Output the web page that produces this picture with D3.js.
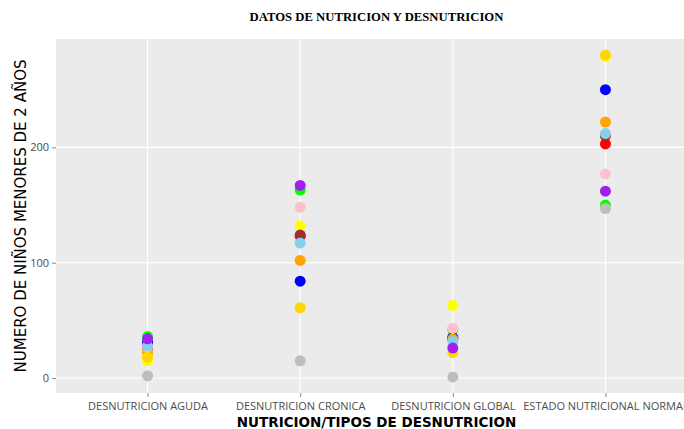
<!DOCTYPE html>
<html>
<head>
<meta charset="utf-8">
<script src="https://cdn.jsdelivr.net/npm/d3@7"></script>
<style>
  body { margin: 0; background: #fff; }
  svg { display: block; }
</style>
</head>
<body>
<div class="chart"></div>
<script>
// datos
const categorias = ["DESNUTRICION AGUDA", "DESNUTRICION CRONICA", "DESNUTRICION GLOBAL", "ESTADO NUTRICIONAL NORMAL"];
const colores = ["yellow", "green", "red", "brown", "blue", "orange", "pink", "skyblue", "grey", "gold", "purple"];
const valYellow  = [15, 132, 63, 279];
const valGreen   = [36, 163, 42, 150];
const valRed     = [26, 123, 34, 203];
const valBrown   = [30, 124, 35, 210];
const valBlue    = [31, 84, 35, 250];
const valOrange  = [22, 102, 34, 222];
const valPink    = [27, 148, 43, 177];
const valSkyblue = [28, 117, 32, 212];
const valGrey    = [2, 15, 1, 147];
const valGold    = [18, 61, 22, 280];
const valPurple  = [34, 167, 26, 162];
const yTicks = [0, 100, 200];

const valores = [valYellow, valGreen, valRed, valBrown, valBlue, valOrange, valPink, valSkyblue, valGrey, valGold, valPurple];
const relleno = {
  yellow: "#FFFF00", green: "#00FF00", brown: "#A52A2A", red: "#FF0000", blue: "#0000FF",
  orange: "#FFA500", pink: "#FFC0CB", skyblue: "#87CEEB", grey: "#BEBEBE", gold: "#FFD700", purple: "#A020F0"
};

const W = 684, H = 429;
const mLeft = 56, mTop = 39, panelW = 641, panelH = 354;

const svg = d3.select('.chart').append('svg')
    .attr('width', W)
    .attr('height', H);

// escala discreta estilo ggplot (expansion 0.6)
const x = d3.scaleLinear()
    .domain([0.4, categorias.length + 0.6])
    .range([mLeft, mLeft + panelW]);

const todos = valores.flat();
const ext = d3.extent(todos);
const pad = (ext[1] - ext[0]) * 0.05;
const y = d3.scaleLinear()
    .domain([ext[0] - pad, ext[1] + pad])
    .range([mTop + panelH, mTop]);

svg.append('rect')
    .attr('x', mLeft).attr('y', mTop)
    .attr('width', panelW).attr('height', panelH)
    .attr('fill', '#ebebeb');

// rejilla
svg.selectAll('hgrid').data(yTicks).enter().append('line')
    .attr('x1', mLeft).attr('x2', mLeft + panelW)
    .attr('y1', d => y(d)).attr('y2', d => y(d))
    .attr('stroke', '#fff').attr('stroke-width', 1.1);

svg.selectAll('vgrid').data(categorias).enter().append('line')
    .attr('x1', (d, i) => x(i + 1)).attr('x2', (d, i) => x(i + 1))
    .attr('y1', mTop).attr('y2', mTop + panelH)
    .attr('stroke', '#fff').attr('stroke-width', 1.1);

// ejes
const yAxis = d3.axisLeft(y).tickValues(yTicks).tickSize(4).tickPadding(3);
const gy = svg.append('g').attr('transform', `translate(${mLeft},0)`).call(yAxis);
gy.select('.domain').remove();
gy.selectAll('line').attr('stroke', '#333').attr('stroke-opacity', 0.6);
gy.selectAll('text').attr('fill', '#4d4d4d').style('font', '11px "Open Sans", sans-serif');

const xAxis = d3.axisBottom(x).tickValues(categorias.map((d, i) => i + 1))
    .tickFormat((d, i) => categorias[i]).tickSize(4).tickPadding(5);
const gx = svg.append('g').attr('transform', `translate(0,${mTop + panelH})`).call(xAxis);
gx.select('.domain').remove();
gx.selectAll('line').attr('stroke', '#333').attr('stroke-opacity', 0.6);
gx.selectAll('text').attr('fill', '#4d4d4d').style('font', '11px "Open Sans", sans-serif');

// puntos
colores.forEach((c, k) => {
  svg.append('g').selectAll('circle')
    .data(valores[k])
    .enter()
    .append('circle')
    .attr('cx', (d, i) => x(i + 1))
    .attr('cy', d => y(d))
    .attr('r', 5.5)
    .attr('fill', relleno[c]);
});

// titulos
svg.append('text')
    .attr('x', mLeft + panelW / 2).attr('y', 21)
    .attr('text-anchor', 'middle')
    .style('font', 'bold 12.7px "Liberation Serif", serif')
    .attr('fill', '#000')
    .text('DATOS DE NUTRICION Y DESNUTRICION');

svg.append('text')
    .attr('x', mLeft + panelW / 2).attr('y', 427)
    .attr('text-anchor', 'middle')
    .style('font', 'bold 13.5px "DejaVu Sans", sans-serif')
    .attr('fill', '#000')
    .text('NUTRICION/TIPOS DE DESNUTRICION');

svg.append('text')
    .attr('transform', `translate(26,${mTop + panelH / 2}) rotate(-90)`)
    .attr('text-anchor', 'middle')
    .style('font', '15px "DejaVu Sans", sans-serif')
    .attr('fill', '#000')
    .text('NUMERO DE NIÑOS MENORES DE 2 AÑOS');
</script>
</body>
</html>
